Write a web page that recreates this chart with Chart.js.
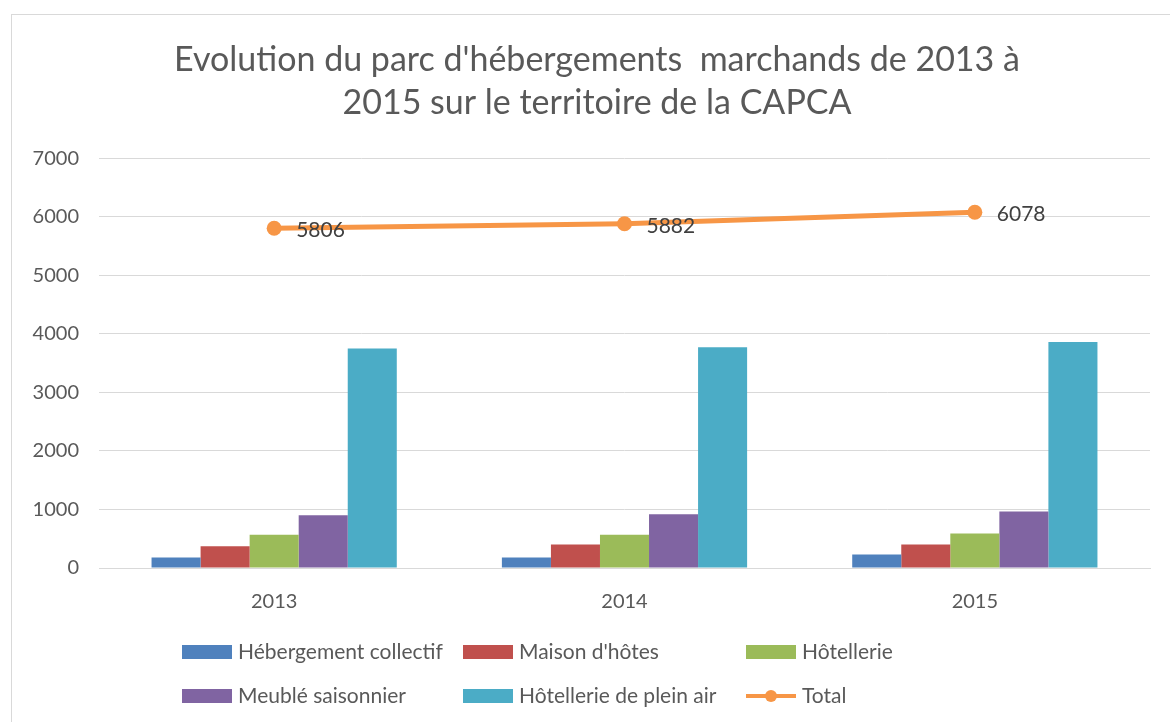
<!DOCTYPE html>
<html>
<head>
<meta charset="utf-8">
<script src="https://cdn.jsdelivr.net/npm/chart.js@4.4.1/dist/chart.umd.min.js"></script>
<style>
  html, body { margin: 0; padding: 0; background: #fff; }
  #wrap { position: absolute; left: 0; top: 0; width: 1170px; height: 722px; }
  #frame { position: absolute; left: 11px; top: 14px; width: 1170px; height: 720px; border: 1px solid #d9d9d9; }
</style>
</head>
<body>
<div id="wrap">
  <div id="frame"></div>
  <canvas id="chart" width="1170" height="722"></canvas>
</div>
<script>
'use strict';

// années
var years = ['2013', '2014', '2015'];

// nombre d'hébergements par type
var collectif = [180, 180, 230];
var maisonHotes = [370, 400, 400];
var hotellerie = [570, 570, 590];
var meuble = [900, 920, 965];
var pleinAir = [3750, 3773, 3860];
var total = [5806, 5882, 6078];

var yTicks = [0, 1000, 2000, 3000, 4000, 5000, 6000, 7000];

var titleLines = ["Evolution du parc d'hébergements  marchands de 2013 à", '2015 sur le territoire de la CAPCA'];

var FONT = 'Lato, "Open Sans", sans-serif';

// titre centré sur le cadre (et non sur la zone du canvas)
var frameTitle = {
    id: 'frameTitle',
    afterDraw: function(chart) {
        var ctx = chart.ctx;
        var box = chart.titleBlock;
        ctx.save();
        ctx.font = '34px ' + FONT;
        ctx.fillStyle = '#595959';
        ctx.textAlign = 'center';
        ctx.textBaseline = 'middle';
        var lh = 34 * 1.27;
        titleLines.forEach(function(t, i) {
            ctx.fillText(t, 597, box.top + 24 + lh * (i + 0.5));
        });
        ctx.restore();
    }
};

// étiquettes de valeurs pour la courbe Total
var totalLabels = {
    id: 'totalLabels',
    afterDatasetsDraw: function(chart) {
        var ctx = chart.ctx;
        chart.data.datasets.forEach(function(ds, i) {
            if (ds.type !== 'line') return;
            chart.getDatasetMeta(i).data.forEach(function(pt, j) {
                ctx.save();
                ctx.font = '21px ' + FONT;
                ctx.fillStyle = '#404040';
                ctx.textAlign = 'left';
                ctx.textBaseline = 'middle';
                ctx.fillText(ds.data[j], pt.x + 22, pt.y + 2);
                ctx.restore();
            });
        });
    }
};

// légende en grille (3 colonnes, 2 lignes)
var gridLegend = {
    id: 'gridLegend',
    afterDraw: function(chart) {
        var ctx = chart.ctx;
        var cols = [182, 463, 746];
        var rows = [652, 696];
        chart.data.datasets.forEach(function(ds, i) {
            var x = cols[i % 3];
            var y = rows[Math.floor(i / 3)];
            ctx.save();
            if (ds.type === 'line') {
                ctx.strokeStyle = ds.borderColor;
                ctx.lineWidth = 4;
                ctx.beginPath();
                ctx.moveTo(x, y);
                ctx.lineTo(x + 50, y);
                ctx.stroke();
                ctx.fillStyle = ds.borderColor;
                ctx.beginPath();
                ctx.arc(x + 25, y, 6, 0, Math.PI * 2);
                ctx.fill();
            } else {
                ctx.fillStyle = ds.backgroundColor;
                ctx.fillRect(x, y - 7, 50, 14);
            }
            ctx.font = '21px ' + FONT;
            ctx.fillStyle = '#595959';
            ctx.textAlign = 'left';
            ctx.textBaseline = 'middle';
            ctx.fillText(ds.label, x + 56, y);
            ctx.restore();
        });
    }
};

var ctx = document.getElementById('chart').getContext('2d');

new Chart(ctx, {
    type: 'bar',
    data: {
        labels: years,
        datasets: [
            {label: 'Hébergement collectif', data: collectif, backgroundColor: '#4F81BD', order: 1},
            {label: "Maison d'hôtes", data: maisonHotes, backgroundColor: '#C0504D', order: 1},
            {label: 'Hôtellerie', data: hotellerie, backgroundColor: '#9BBB59', order: 1},
            {label: 'Meublé saisonnier', data: meuble, backgroundColor: '#8064A2', order: 1},
            {label: 'Hôtellerie de plein air', data: pleinAir, backgroundColor: '#4BACC6', order: 1},
            {label: 'Total', type: 'line', data: total, borderColor: '#F79646', backgroundColor: '#F79646',
             borderWidth: 5, pointRadius: 7.5, pointHoverRadius: 7.5, pointBackgroundColor: '#F79646',
             pointBorderWidth: 0, tension: 0, order: 0}
        ]
    },
    options: {
        responsive: false,
        animation: false,
        layout: {padding: {left: 12, right: 20, top: 14, bottom: 0}},
        datasets: {
            bar: {categoryPercentage: 0.7, barPercentage: 1.0}
        },
        plugins: {
            legend: {display: false},
            tooltip: {enabled: false},
            // le titre natif ne sert qu'à réserver la place, le texte est dessiné par frameTitle
            title: {
                display: true,
                text: titleLines,
                color: 'rgba(0,0,0,0)',
                font: {family: FONT, size: 34, weight: 'normal', lineHeight: 1.27},
                padding: {top: 24, bottom: 34}
            }
        },
        scales: {
            x: {
                grid: {display: false, drawTicks: false},
                border: {color: '#d9d9d9', width: 1},
                ticks: {color: '#595959', font: {family: FONT, size: 20}, padding: 22},
                afterFit: function(scale) { scale.height = 154; }
            },
            y: {
                min: 0,
                max: 7000,
                afterBuildTicks: function(scale) {
                    scale.ticks = yTicks.map(function(v) { return {value: v}; });
                },
                grid: {color: '#d9d9d9', drawTicks: false},
                border: {display: false},
                ticks: {
                    color: '#595959', font: {family: FONT, size: 20}, padding: 20,
                    callback: function(v) { return String(v); }
                },
                afterFit: function(scale) { scale.width = 87; }
            }
        }
    },
    plugins: [frameTitle, totalLabels, gridLegend]
});
</script>
</body>
</html>
